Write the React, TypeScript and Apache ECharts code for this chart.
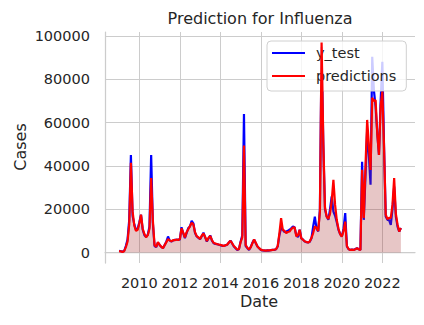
import React, { useEffect, useRef } from "react";
import * as echarts from "echarts";

const startYear = 2009;
// monthly values, Jan 2009 .. Dec 2022
const yTest = [
  800, 600, 400, 700, 3000, 6000, 15000, 45100, 17000, 13000, 10500, 11000,
  14000, 17400, 10500, 8000, 7200, 8200, 12000, 45100, 13700, 3000, 2500, 4500,
  3500, 2600, 2000, 3500, 5000, 7400, 5500, 5100, 5500, 5900, 5900, 6000,
  5900, 11700, 9000, 6600, 9000, 11300, 12000, 14600, 13500, 9000, 7400, 6800,
  6200, 7500, 9200, 7000, 5100, 6500, 7900, 5500, 4300, 4000, 3900, 3600,
  3400, 3100, 3100, 3300, 3600, 4500, 5500, 4200, 2800, 2000, 1200, 1500,
  5000, 8000, 64000, 3000, 2000, 1200, 2500, 4500, 6000, 4300, 2800, 2000,
  1200, 1000, 900, 900, 1000, 900, 1100, 1200, 1200, 1500, 2800, 8000,
  11400, 10500, 9500, 9700, 10000, 10500, 11200, 12000, 11700, 8000, 7100, 10500,
  6500, 5900, 5100, 4800, 4600, 5000, 6600, 12000, 16600, 11000, 9700, 20000,
  95000, 50000, 20000, 16600, 15100, 20000, 25900, 18900, 17000, 14000, 10500, 8500,
  7400, 11000, 18200, 2800, 1500, 1200, 1300, 1200, 1600, 2000, 1500, 1200,
  42000, 15100, 35000, 56700, 45000, 31300, 90500, 75000, 67400, 55000, 45100, 70000,
  88200, 49000, 16600, 15100, 15000, 12800, 20000, 30500, 16600, 12000, 9700, 11300,
];
const predictions = [
  600, 500, 300, 600, 2500, 5000, 13000, 41500, 19000, 12500, 10000, 10500,
  13500, 17500, 11000, 8500, 7000, 8000, 11000, 34400, 15000, 3500, 2600, 4800,
  3600, 2700, 2000, 3400, 4800, 6200, 5600, 5200, 5700, 5700, 6000, 5800,
  6200, 11200, 9200, 7000, 9400, 10800, 12200, 13800, 13000, 9400, 7600, 7000,
  6300, 7800, 8800, 7200, 5300, 6800, 7700, 5800, 4500, 4200, 3900, 3700,
  3500, 3300, 3000, 3400, 3600, 4600, 5400, 4300, 3000, 2200, 1400, 1500,
  4800, 7000, 49500, 3500, 2200, 1400, 2500, 4300, 6000, 4500, 2800, 2000,
  1300, 1100, 1000, 900, 1000, 1000, 1100, 1200, 1300, 1500, 3000, 9000,
  15900, 10500, 10000, 9000, 9500, 9700, 10800, 11500, 11700, 7500, 8000, 10500,
  6500, 5900, 5200, 4900, 4600, 5200, 6800, 9000, 12000, 11500, 10000, 19000,
  97100, 52000, 21000, 16600, 15500, 18000, 24000, 33600, 22000, 15000, 11000, 8500,
  7400, 10000, 14300, 3000, 1600, 1200, 1300, 1200, 1500, 2000, 1500, 1200,
  38200, 16000, 40000, 61300, 50000, 38200, 71500, 70000, 70500, 55000, 45100, 68000,
  74400, 49000, 17500, 15500, 16000, 16000, 22000, 34400, 18000, 13000, 9700, 11300,
];
const xTicks = [2010, 2012, 2014, 2016, 2018, 2020, 2022];
const yTicks = [0, 20000, 40000, 60000, 80000, 100000];
const titleText = "Prediction for Influenza";
const xLabel = "Date";
const yLabel = "Cases";

const FONT = "DejaVu Sans";
const TXT = "#262626";
const GRID = "#cccccc";

export default function App() {
  const ref = useRef<HTMLDivElement>(null);
  useEffect(() => {
    if (!ref.current) return;
    const chart = echarts.init(ref.current, null, { renderer: "svg" });
    const toPairs = (arr: number[]) => arr.map((v, i) => [startYear + i / 12, v]);
    const n = yTest.length;
    const x0 = startYear;
    const x1 = startYear + (n - 1) / 12;
    const xm = (x1 - x0) * 0.05;
    const allVals = yTest.concat(predictions);
    const yMaxD = Math.max(...allVals);
    const yMinD = 0;
    const ym = (yMaxD - yMinD) * 0.05;
    chart.setOption({
      animation: false,
      backgroundColor: "#ffffff",
      textStyle: { fontFamily: FONT },
      grid: { left: 105, right: 9, top: 32, bottom: 62, containLabel: false },
      xAxis: {
        type: "value",
        min: x0 - xm,
        max: x1 + xm,
        axisLine: { show: true, lineStyle: { color: GRID, width: 1.25 } },
        axisTick: { show: false, customValues: xTicks },
        axisLabel: {
          customValues: xTicks,
          formatter: (v: number) => String(Math.round(v)),
          fontSize: 14.5,
          color: TXT,
          fontFamily: FONT,
          margin: 12,
        },
        splitLine: { show: true, lineStyle: { color: GRID, width: 1 } },
      },
      yAxis: {
        type: "value",
        min: yMinD - ym,
        max: yMaxD + ym,
        axisLine: { show: true, lineStyle: { color: GRID, width: 1.25 } },
        axisTick: { show: false, customValues: yTicks },
        axisLabel: {
          customValues: yTicks,
          formatter: (v: number) => String(Math.round(v)),
          fontSize: 14.5,
          color: TXT,
          fontFamily: FONT,
          margin: 15,
        },
        splitLine: { show: true, lineStyle: { color: GRID, width: 1 } },
      },
      legend: {
        orient: "vertical",
        left: 267,
        top: 41,
        padding: [4, 10, 7, 5],
        icon: "rect",
        itemWidth: 33,
        itemHeight: 2.2,
        itemGap: 7,
        backgroundColor: "rgba(255,255,255,0.8)",
        borderColor: "#d0d0d0",
        borderWidth: 1,
        borderRadius: 4,
        textStyle: {
          fontSize: 14.5,
          color: TXT,
          fontFamily: FONT,
          lineHeight: 16,
          padding: [0, 0, 0, 6],
        },
        data: ["y_test", "predictions"],
      },
      series: [
        {
          name: "y_test",
          type: "line",
          symbol: "none",
          data: toPairs(yTest),
          lineStyle: { color: "#0000ff", width: 2.2 },
          itemStyle: { color: "#0000ff" },
          z: 3,
        },
        {
          name: "predictions",
          type: "line",
          symbol: "none",
          data: toPairs(predictions),
          lineStyle: { color: "#ff0000", width: 2.2 },
          itemStyle: { color: "#ff0000" },
          areaStyle: { color: "rgba(165,42,42,0.38)", origin: 0 },
          z: 4,
        },
      ],
      graphic: [
        {
          type: "text",
          x: 260,
          y: 18,
          style: {
            text: titleText,
            fontSize: 16,
            fontFamily: FONT,
            fill: TXT,
            align: "center",
            verticalAlign: "middle",
          },
        },
        {
          type: "text",
          x: 259,
          y: 301,
          style: {
            text: xLabel,
            fontSize: 16,
            fontFamily: FONT,
            fill: TXT,
            align: "center",
            verticalAlign: "middle",
          },
        },
        {
          type: "text",
          x: 20,
          y: 147,
          rotation: Math.PI / 2,
          style: {
            text: yLabel,
            fontSize: 16,
            fontFamily: FONT,
            fill: TXT,
            align: "center",
            verticalAlign: "middle",
          },
        },
      ],
    });
    return () => chart.dispose();
  }, []);
  return (
    <div
      ref={ref}
      style={{ position: "fixed", left: 0, top: 0, width: 424, height: 325, background: "#fff" }}
    />
  );
}
